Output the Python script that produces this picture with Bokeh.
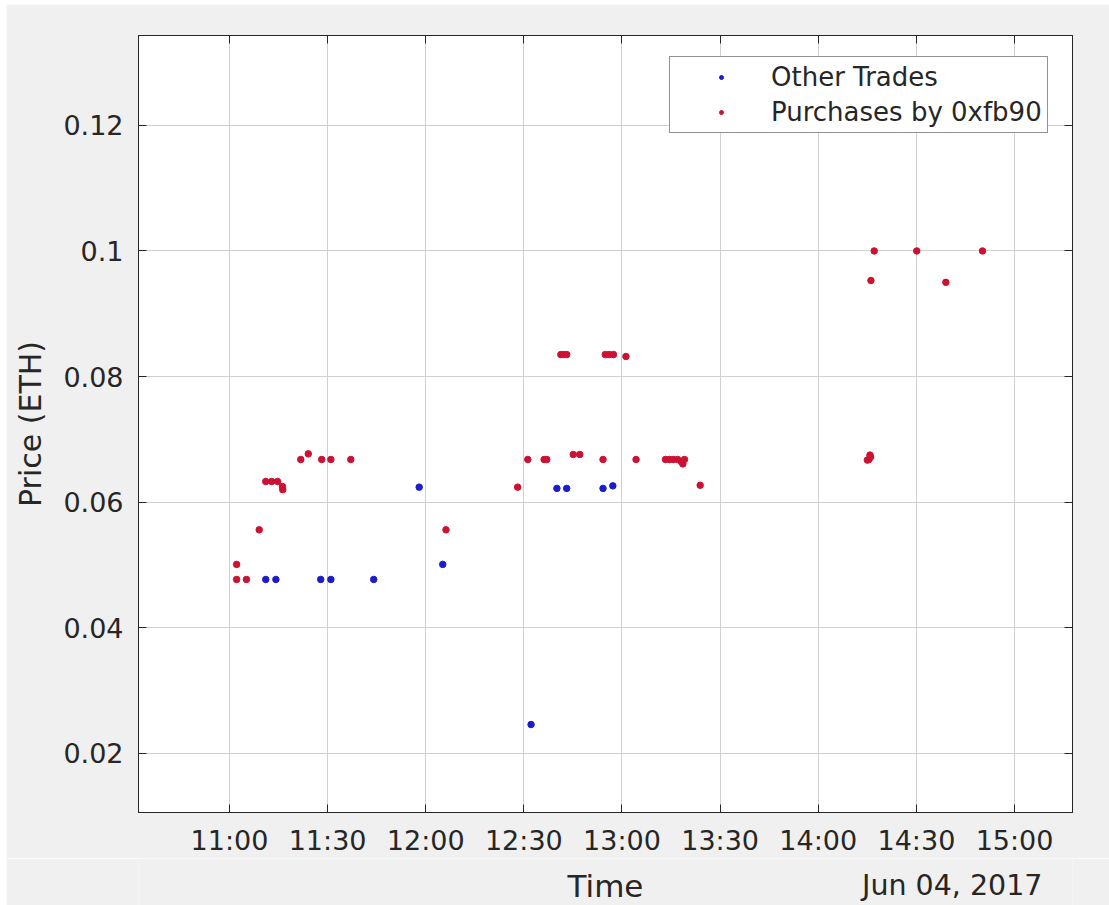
import pandas as pd
from bokeh.plotting import figure
from bokeh.layouts import column
from bokeh.models import (Range1d, FixedTicker, DatetimeTickFormatter, NumeralTickFormatter,
                          Label, Legend, LegendItem, LinearAxis, DatetimeAxis)
from bokeh.embed import file_html
from bokeh.resources import INLINE

DATE = "2017-06-04"
DATE_LABEL = "Jun 04, 2017"

other_times = ["11:11:06", "11:14:12", "11:27:54", "11:31:00", "11:44:06", "11:58:00",
               "12:05:12", "12:32:12", "12:40:06", "12:43:06", "12:54:12", "12:57:12"]
other_prices = [0.0477, 0.0477, 0.0477, 0.0477, 0.0477, 0.0624,
                0.0501, 0.0246, 0.0622, 0.0622, 0.0622, 0.0626]

purchase_times = ["11:02:12", "11:02:12", "11:05:12", "11:09:06", "11:11:06", "11:12:54",
                  "11:14:42", "11:16:12", "11:16:18", "11:21:48", "11:24:06", "11:28:12",
                  "11:31:00", "11:37:06", "12:06:12", "12:28:06", "12:31:12", "12:36:12",
                  "12:37:00", "12:41:18", "12:42:12", "12:43:06", "12:45:06", "12:47:06",
                  "12:54:12", "12:54:54", "12:56:06", "12:57:24", "13:01:12", "13:04:18",
                  "13:13:18", "13:14:30", "13:15:42", "13:17:00", "13:18:12", "13:18:36",
                  "13:19:06", "13:23:54", "14:15:00", "14:15:30", "14:16:00", "14:15:48",
                  "14:16:06", "14:17:06", "14:30:06", "14:39:00", "14:50:12"]
purchase_prices = [0.0501, 0.0477, 0.0477, 0.0556, 0.0633, 0.0633,
                   0.0633, 0.0625, 0.0620, 0.0668, 0.0677, 0.0668,
                   0.0668, 0.0668, 0.0556, 0.0624, 0.0668, 0.0668,
                   0.0668, 0.0835, 0.0835, 0.0835, 0.0676, 0.0676,
                   0.0668, 0.0835, 0.0835, 0.0835, 0.0832, 0.0668,
                   0.0668, 0.0668, 0.0668, 0.0668, 0.0664, 0.0661,
                   0.0668, 0.0627, 0.0667, 0.0668, 0.0672, 0.0675,
                   0.0953, 0.1000, 0.1000, 0.0950, 0.1000]

x_tick_labels = ["11:00", "11:30", "12:00", "12:30", "13:00", "13:30", "14:00", "14:30", "15:00"]
y_ticks = [0.02, 0.04, 0.06, 0.08, 0.10, 0.12]
x_limits = ["10:32:12", "15:17:43"]
y_limits = [0.0106, 0.1343]

def ts(t):
    return pd.Timestamp(f"{DATE} {t}")

def ms(t):
    return ts(t).value / 1e6

FONT = "DejaVu Sans"
TXT = "#262626"
BG = "#f0f0f0"

p = figure(width=1103, height=854, x_axis_type="datetime", output_backend="svg",
           toolbar_location=None,
           x_range=Range1d(ts(x_limits[0]), ts(x_limits[1])),
           y_range=Range1d(y_limits[0], y_limits[1]),
           min_border_left=132, min_border_right=37, min_border_top=31, min_border_bottom=46)
p.margin = (4, 0, 0, 6)

p.border_fill_color = BG
p.background_fill_color = "white"
p.outline_line_color = TXT
p.outline_line_width = 1

r_other = p.scatter([ts(t) for t in other_times], other_prices, size=6.5,
                    fill_color="#1c1cc8", line_color="#1c1cc8")
r_purch = p.scatter([ts(t) for t in purchase_times], purchase_prices, size=6.5,
                    fill_color="#cc1133", line_color="#cc1133")

bottom_axis = p.below[0]
left_axis = p.left[0]

x_ticker = FixedTicker(ticks=[ms(t) for t in x_tick_labels])
y_ticker = FixedTicker(ticks=y_ticks)
fmt = "%H:%M"
x_fmt = DatetimeTickFormatter(microseconds=fmt, milliseconds=fmt, seconds=fmt,
                              minsec=fmt, minutes=fmt, hourmin=fmt, hours=fmt,
                              days=fmt, months=fmt, years=fmt)
bottom_axis.ticker = x_ticker
bottom_axis.formatter = x_fmt
left_axis.ticker = y_ticker
left_axis.formatter = NumeralTickFormatter(format="0.[00]")

top_axis = DatetimeAxis(ticker=x_ticker, formatter=x_fmt)
right_axis = LinearAxis(ticker=y_ticker)
for ax in (top_axis, right_axis):
    ax.major_label_text_alpha = 0
    ax.major_label_text_font_size = "1px"
    ax.major_label_standoff = 0
p.add_layout(top_axis, "above")
p.add_layout(right_axis, "right")

for ax in (bottom_axis, left_axis, top_axis, right_axis):
    ax.axis_line_color = TXT
    ax.major_tick_line_color = TXT
    ax.major_tick_in = 8
    ax.major_tick_out = 0
    ax.minor_tick_line_color = None

for ax in (bottom_axis, left_axis):
    ax.major_label_text_font = FONT
    ax.major_label_text_color = TXT
    ax.axis_label_text_font = FONT
    ax.axis_label_text_font_size = "30px"
    ax.axis_label_text_color = TXT
    ax.axis_label_text_font_style = "normal"

bottom_axis.major_label_text_font_size = "27px"
left_axis.major_label_text_font_size = "27px"
left_axis.axis_label = "Price (ETH)"
left_axis.major_label_standoff = 15
left_axis.axis_label_standoff = 12
bottom_axis.major_label_standoff = 12

p.grid.grid_line_color = "#d0d0d0"
p.grid.grid_line_width = 1

legend = Legend(items=[LegendItem(label="Other Trades", renderers=[r_other]),
                       LegendItem(label="Purchases by 0xfb90", renderers=[r_purch])],
                location=(531, 679))
legend.label_text_font = FONT
legend.label_text_font_size = "26px"
legend.label_text_color = TXT
legend.border_line_color = TXT
legend.border_line_width = 1
legend.background_fill_color = "white"
legend.background_fill_alpha = 1
legend.padding = 5
legend.spacing = 5
legend.margin = 0
legend.glyph_width = 92
legend.glyph_height = 10
legend.label_standoff = 4
p.add_layout(legend)

# strip below the axes holding the x-axis title and the date (same frame edges as p)
p2 = figure(width=1103, height=47, output_backend="svg", toolbar_location=None,
            x_range=Range1d(138, 1072), y_range=Range1d(905, 858),
            x_axis_location=None, y_axis_location=None,
            min_border_left=132, min_border_right=37, min_border_top=0, min_border_bottom=0)
p2.margin = (0, 0, 0, 6)
p2.grid.visible = False
p2.outline_line_color = None
p2.border_fill_color = BG
p2.background_fill_color = BG
p2.add_layout(Label(x=605, y=885, text="Time",
                    text_align="center", text_baseline="alphabetic",
                    text_font=FONT, text_font_size="31px", text_color=TXT))
p2.add_layout(Label(x=1042, y=885, text=DATE_LABEL,
                    text_align="right", text_baseline="alphabetic",
                    text_font=FONT, text_font_size="28.5px", text_color=TXT))

layout = column(p, p2, spacing=0)
open("out.html", "w").write(file_html(layout, INLINE))
